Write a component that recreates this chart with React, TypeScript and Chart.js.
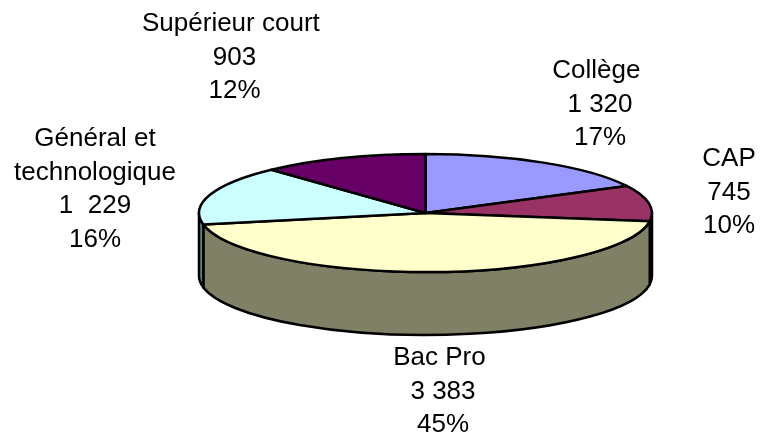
import React, { useEffect, useRef } from "react";
import { Chart, registerables, ArcElement, PieController } from "chart.js";

const categories = ["Collège", "CAP", "Bac Pro", "Général et technologique", "Supérieur court"];
const seriesValues = [1320, 745, 3383, 1229, 903];
const valueLabels = ["1 320", "745", "3 383", "1  229", "903"];
const percentLabels = ["17%", "10%", "45%", "16%", "12%"];
const topColors = ["#9999FF", "#993366", "#FFFFCC", "#CCFFFF", "#660066"];
const wallColors = ["#4D4D80", "#4D1A33", "#808066", "#668080", "#330033"];

const RX = 226.5;
const RY = 59;
const DEPTH = 63;
const FONT = '26px "Liberation Sans", Arial, sans-serif';
const LINE_HEIGHT = 33.6;
const labelPos: [number, number][] = [
  [600, 71],
  [729, 159],
  [443, 358],
  [95, 139],
  [234.5, 24],
];
const labelLines = [["Collège "], ["CAP"], ["Bac Pro "], ["Général et", "technologique"], ["Supérieur court "]];

class Arc3D extends ArcElement {
  static id = "arc3d";
  draw(ctx: CanvasRenderingContext2D) {
    const { x, y, startAngle, endAngle } = (this as any).getProps(["x", "y", "startAngle", "endAngle"]);
    const o = (this as any).options;
    ctx.save();
    ctx.beginPath();
    ctx.moveTo(x, y);
    ctx.ellipse(x, y, RX, RY, 0, startAngle, endAngle);
    ctx.closePath();
    ctx.fillStyle = o.backgroundColor;
    ctx.fill();
    ctx.lineWidth = o.borderWidth;
    ctx.strokeStyle = o.borderColor;
    ctx.lineJoin = "round";
    ctx.stroke();
    ctx.restore();
  }
}

class Pie3D extends PieController {
  static id = "pie3d";
  static defaults = { ...(PieController as any).defaults, dataElementType: "arc3d" };
}

Chart.register(...registerables, Arc3D, Pie3D);

const wallPlugin = {
  id: "wall",
  beforeDatasetsDraw(chart: any) {
    const ctx = chart.ctx as CanvasRenderingContext2D;
    const meta = chart.getDatasetMeta(0);
    meta.data.forEach((arc: any, i: number) => {
      const { x, y, startAngle, endAngle } = arc.getProps(["x", "y", "startAngle", "endAngle"]);
      const a = Math.max(startAngle, 0);
      const b = Math.min(endAngle, Math.PI);
      if (a >= b) return;
      ctx.save();
      ctx.beginPath();
      ctx.ellipse(x, y, RX, RY, 0, a, b);
      ctx.ellipse(x, y + DEPTH, RX, RY, 0, b, a, true);
      ctx.closePath();
      ctx.fillStyle = wallColors[i];
      ctx.fill();
      ctx.lineWidth = 2.5;
      ctx.strokeStyle = "#000";
      ctx.lineJoin = "round";
      ctx.stroke();
      ctx.restore();
    });
  },
};

const labelPlugin = {
  id: "sliceLabels",
  afterDatasetsDraw(chart: any) {
    const ctx = chart.ctx as CanvasRenderingContext2D;
    ctx.save();
    ctx.font = FONT;
    ctx.fillStyle = "#000";
    ctx.textAlign = "center";
    ctx.textBaseline = "middle";
    categories.forEach((_, i) => {
      const lines = [...labelLines[i], valueLabels[i], percentLabels[i]];
      lines.forEach((t, j) => {
        ctx.fillText(t, labelPos[i][0], labelPos[i][1] + j * LINE_HEIGHT);
      });
    });
    ctx.restore();
  },
};

export default function App() {
  const ref = useRef<HTMLCanvasElement>(null);
  useEffect(() => {
    const chart = new Chart(ref.current as HTMLCanvasElement, {
      type: "pie3d" as any,
      data: {
        labels: categories,
        datasets: [
          {
            data: seriesValues,
            backgroundColor: topColors,
            borderColor: "#000",
            borderWidth: 2.5,
          },
        ],
      },
      options: {
        animation: false,
        responsive: false,
        layout: { padding: { left: 90, right: 0, top: 0, bottom: 13 } },
        plugins: { legend: { display: false }, tooltip: { enabled: false } },
      },
      plugins: [wallPlugin, labelPlugin],
    } as any);
    return () => chart.destroy();
  }, []);
  return (
    <canvas
      ref={ref}
      width={761}
      height={439}
      style={{ position: "fixed", left: 0, top: 0, width: 761, height: 439, display: "block" }}
    />
  );
}
